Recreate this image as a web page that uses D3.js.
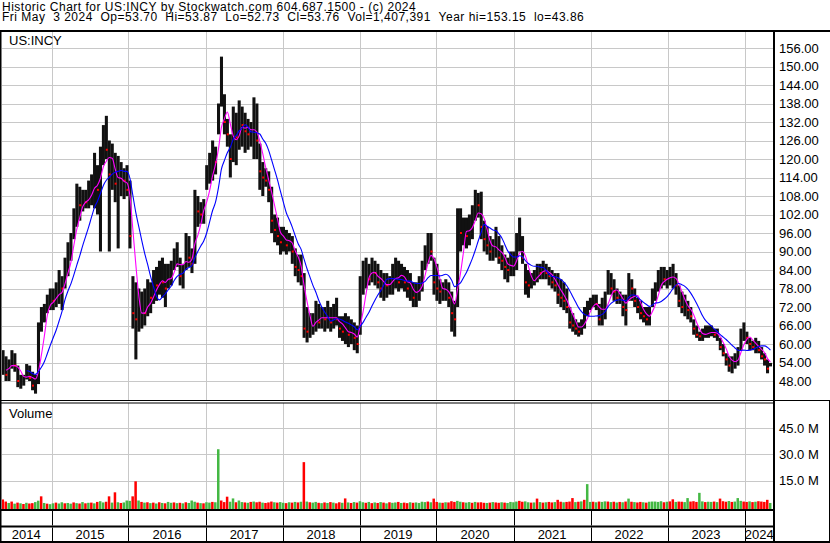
<!DOCTYPE html>
<html><head><meta charset="utf-8">
<script src="https://cdn.jsdelivr.net/npm/d3@7"></script>
<style>
html,body{margin:0;padding:0;background:#fff;}
svg{display:block;}
text{font-family:"Liberation Sans",Arial,sans-serif;}
</style></head>
<body><svg id="c" width="830" height="543"></svg>
<script>
// ---------------- data (bi-weekly samples) ----------------
const startDate = new Date(2014, 4, 16);
const sampleDays = 14;
const highs = [58,56,55,58,57,53,50,50,53.5,53,51,50,67,72,73,76,78,
78,80,84,82,88,93,96,104,112,111,110,110,113,115,122,118,124,131,134,126,125,122,121,119,117,118,
113,82,80,78,77,78,81,80,84,85,87,88,86,86,87,91,93,88,86,96,95,91,110,108,106,107,
118,122,126,124,138,153.2,141,133,128,137,135,139,137,135,133,132,140,138,125,119,117,116,111,102,101,98,
98,97,96,95,91,89,89,83,72,70,70,74,73,72,72,74,72,73,75,69,69,70,69,68,67,66,
82,87,88,86,88,87,86,84,83,83,82,86,88,87,86,85,84,83,80,80,82,87,92,96,96,88,
86,81,80,81,80,77,74,104,104,101,101,102,105,110,109,109.4,100,98,95,94,98,95,92,89,88,90,
90,96,101,95,86,84,83,84,86,86,87,86,85,84,83,83,81,80,78,72,70,68,67,68,72,74,75,
76,76,73,75,77,84,83,81,78,77,76,76,83,81,78,75,74,72,72,72,78,80,84,85,85,84,
85,86,83,79,77,76,74,72,68,66,64,65,66,66,66,65,65,62,60,57,56,56,57,59,65,67,
64,62,61,62,61,59,57,55,53.87];
const lows = [50,48,48,52,51,46,45.5,46.5,48.5,48,45,43.9,47,64,67,70,71,
71,72,73,71,78,82,87,94,98,100,103,104,104,105,104,102,90,118,120,90,110,106,91,108,107,108,
91,65,55,64,65,66,69,70,73,74,76,75,72,78,79,84,85,79,78,84,85,83,86,98,99,99,
110,112,113,115,128,137,128,124,114,119,118,123,124,122,123,124,120,120,110,108,111,106,96,93,92,89,
90,89,90,86,82,80,79,62,60.5,62,63,64,65,65,64,65,64,65,66,62,61,60,59,60,58,57,
63,76,78,79,80,79,78,75,74,75,76,76,78,77,78,77,75,74,72,72,74,77,84,86,87,76,
74,73,74,74,72,64,62.4,72,90,92,91,92,94,100,101,94,90,89,87,87,88,86,84,81,80,82,
82,84,90,86,76,75,78,79,80,81,81,81,79,78,77,73,72,71,70,65,64,63,62.4,63,65,69,71,
72,71,66,66,68,76,76,74,73,73,69,66,74,74,72,70,68,67,66,66,72,74,77,78,79,78,
79,78,76,72,70,69,68,67,63,62,61,61,62,62,62.5,62,61,58,56,53,51,50.5,52,53,58,61,
60,58,58,57,57,55,53,50.5,52.73];
const closes = [53,50,53,56,53,48,48,49,52,49,46.5,47,62,70,71,74,75,
74,76,79,78,85,90,93,100,106,105,107,106,109,111,116,110,118,126,123,115,117,112,112,114,113,110,
95,70,68,70,72,70,76,75,80,79,83,80,78,83,84,88,89,82,84,92,88,86,104,103,102,104,
115,118,121,119,135,146,132,128,120,130,127,133,131,129,128,130,131,126,116,114,113,110,100,97,95,93,
95,92,94,90,85,84,82,65,64,66,68,70,67,69,68,70,67,69,68,65,64,64,63,64,62,60,
78,82,85,81,84,83,80,78,80,79,80,82,84,80,83,80,78,78,75,76,80,84,89,92,90,80,
78,77,77,79,75,70,68,98,96,97,95,99,100,106,105,98,94,92,90,91,93,88,87,85,84,86,
86,92,94,88,80,79,81,82,84,83,85,83,82,80,79,76,75,74,72,67,66,65,64,67,70,72,73,
74,73,68,70,74,80,78,77,75,75,72,71,79,78,74,72,70,69,68,69,76,78,80,82,81,81,
82,83,79,74,72,73,71,69,65,63,62.5,63,64,64,64,63,63,59,57,55,53,54,55,57,63,64,
62,60,59,60,58,56,55,52,53.76];
// volume in millions, largest day of each sample period
const volumes = [4.2,3.0,2.2,3.0,1.8,2.4,2.0,1.6,2.3,1.9,
2.1,2.7,3.5,6.0,2.2,1.8,1.5,2.0,2.4,1.9,
2.6,2.0,2.2,1.8,2.5,2.1,1.9,2.7,2.0,2.3,
2.4,2.0,2.8,3.2,2.5,2.9,6.0,2.4,8.3,2.6,
2.2,2.5,3.6,3.4,6.0,14.6,3.6,2.8,2.4,2.6,
2.1,2.4,1.9,2.6,2.2,2.0,2.8,2.3,2.5,2.1,
2.3,2.0,2.6,2.2,3.6,2.9,2.4,2.1,2.0,2.6,
2.4,2.8,2.6,33.0,3.6,2.7,5.8,2.9,4.8,2.6,
3.6,2.7,2.5,2.3,2.8,3.0,2.6,2.9,2.4,2.2,
2.5,3.0,2.6,2.4,2.7,2.3,2.1,2.6,2.4,2.8,
2.5,2.9,25.6,3.0,2.6,2.4,2.8,2.3,2.1,2.5,
2.2,2.7,2.4,2.0,2.6,2.3,4.8,2.5,2.2,2.7,
2.4,3.2,2.6,2.3,2.8,2.1,2.5,2.2,2.7,2.4,
2.0,2.6,2.3,2.5,2.8,2.2,2.4,2.1,2.6,2.3,
2.5,2.2,2.9,2.7,3.0,2.6,4.7,2.8,2.4,2.3,
2.6,2.5,3.2,2.8,3.4,2.9,2.6,2.4,2.7,2.3,
2.8,2.5,2.6,2.3,2.2,2.4,2.7,2.5,2.3,2.6,
2.4,2.2,2.8,2.6,3.0,3.4,2.9,3.1,2.6,2.4,
2.5,4.7,2.7,2.4,2.6,2.8,2.5,2.7,4.0,2.9,
2.6,2.8,3.0,5.0,2.7,2.9,3.1,4.0,13.0,2.8,
2.9,2.6,3.0,2.8,3.1,3.0,2.7,2.9,2.5,2.8,
2.6,3.0,4.7,2.9,2.7,2.5,2.8,2.6,2.4,2.9,
3.0,3.0,2.8,3.2,2.6,2.9,3.1,4.3,2.8,3.0,
2.9,2.7,5.0,3.0,3.2,2.8,8.0,3.1,2.7,2.9,
2.8,3.0,2.7,4.7,3.2,2.9,3.3,2.8,3.0,5.0,
3.4,3.0,2.8,3.1,2.7,2.9,3.2,3.0,2.8,4.0,2.2];
const volDir = "ddudududud"+"duududuudu"+"uduudududu"+"duduuddudu"+"duuuddudud"+
"udududuudu"+"duduuududu"+"uduuddduud"+"uudududdud"+"dduduududu"+
"dududuudud"+"ududdududu"+"duudududud"+"uduududdud"+"uuuududdud"+
"uddduuduud"+"udddududdu"+"duuuudduud"+"udududdudd"+"udddududuu"+
"duduududud"+"udududdudu"+"uuuududdud"+"duuddduudu"+"ududdduduu"+"uddududdddu";
const priceTicks = [48,54,60,66,72,78,84,90,96,102,108,114,120,126,132,138,144,150,156];
const volTicks = [15,30,45];
const yearLabels = [2014,2015,2016,2017,2018,2019,2020,2021,2022,2023,2024];
const headerLine1 = "Historic Chart for US:INCY by Stockwatch.com 604.687.1500 - (c) 2024";
const headerLine2 = "Fri May  3 2024  Op=53.70  Hi=53.87  Lo=52.73  Cl=53.76  Vol=1,407,391  Year hi=153.15  lo=43.86";
const symbol = "US:INCY";
const maShort = 4, maLong = 10;

// ---------------- build ----------------
const dates = highs.map((_, i) => d3.timeDay.offset(startDate, i * sampleDays));
const data = dates.map((d, i) => ({d, h: highs[i], l: lows[i], c: closes[i], v: volumes[i], up: volDir[i] === "u",
  down: i > 0 && closes[i] < closes[i - 1]}));
function sma(n, minStart) {
  return data.map((p, i) => {
    if (i < minStart) return null;
    const s = Math.max(0, i - n + 1);
    return {d: p.d, v: d3.mean(closes.slice(s, i + 1))};
  }).filter(Boolean);
}
const maS = sma(maShort, 1), maL = sma(maLong, 8);
const nb = s => s.replace(/ /g, "\u00A0");

const svg = d3.select("#c");
const R = 774;
const pTop = 32, pBot = 400, vTop = 403, vBot = 509;

const x = d3.scaleTime().domain([new Date(2015,0,1), new Date(2024,0,1)]).range([51.5, 744.5]);
const yP = d3.scaleLinear().domain([48,156]).range([381,48]);
const yV = d3.scaleLinear().domain([0,45]).range([506.8,428.3]);
const bw = x(d3.timeDay.offset(startDate, sampleDays)) - x(startDate);
const yearBounds = yearLabels.slice(1).map(y => new Date(y,0,1));

svg.append("rect").attr("width",830).attr("height",543).attr("fill","#fff");

const defs = svg.append("defs");
defs.append("clipPath").attr("id","cp").append("rect").attr("x",2).attr("y",pTop).attr("width",R-3).attr("height",pBot-pTop);
defs.append("clipPath").attr("id","cv").append("rect").attr("x",2).attr("y",vTop).attr("width",R-3).attr("height",vBot-vTop);

// gridlines
const gGrid = svg.append("g").attr("transform",`translate(${R},0)`)
  .call(d3.axisLeft(yP).tickValues(priceTicks).tickSize(R-2).tickFormat(""));
gGrid.select(".domain").remove();
gGrid.selectAll("line").attr("stroke","#c8c8c8").attr("shape-rendering","crispEdges");
const vGrid = svg.append("g").attr("transform",`translate(${R},0)`)
  .call(d3.axisLeft(yV).tickValues(volTicks).tickSize(R-2).tickFormat(""));
vGrid.select(".domain").remove();
vGrid.selectAll("line").attr("stroke","#c8c8c8").attr("shape-rendering","crispEdges");
[[pTop,pBot],[vTop,vBot]].forEach(([a,b]) => {
  svg.append("g").selectAll("line").data(yearBounds).join("line")
    .attr("x1",d=>Math.round(x(d))+0.5).attr("x2",d=>Math.round(x(d))+0.5)
    .attr("y1",a).attr("y2",b).attr("stroke","#c8c8c8");
});

// price bars
const gp = svg.append("g").attr("clip-path","url(#cp)");
gp.selectAll("rect.bar").data(data).join("rect").attr("class","bar")
  .attr("x",d=>x(d.d)-bw/2).attr("width",bw+0.1)
  .attr("y",d=>yP(d.h)).attr("height",d=>Math.max(1,yP(d.l)-yP(d.h)))
  .attr("fill","#111");
gp.selectAll("rect.tick").data(data.filter(d=>d.down)).join("rect").attr("class","tick")
  .attr("x",d=>x(d.d)+bw/2-2).attr("y",d=>yP(d.c)-1).attr("width",2).attr("height",2).attr("fill","#ff0000");
const line = d3.line().x(p=>x(p.d)).y(p=>yP(p.v)).curve(d3.curveMonotoneX);
gp.append("path").datum(maS).attr("d",line).attr("fill","none").attr("stroke","#ff00ff").attr("stroke-width",1.1);
gp.append("path").datum(maL).attr("d",line).attr("fill","none").attr("stroke","#0000ff").attr("stroke-width",1.1);

// volume bars
const gv = svg.append("g").attr("clip-path","url(#cv)");
gv.selectAll("rect").data(data).join("rect")
  .attr("x",d=>x(d.d)-bw/2).attr("width",bw*0.85)
  .attr("y",d=>yV(d.v)).attr("height",d=>vBot-yV(d.v))
  .attr("fill",d=>d.up?"#44b844":"#ff0000");

// axis labels
const ax = svg.append("g").attr("transform",`translate(${R},0)`)
  .call(d3.axisRight(yP).tickValues(priceTicks).tickSize(0).tickPadding(5).tickFormat(d3.format(".2f")));
ax.select(".domain").remove();
ax.selectAll("text").attr("font-size",13).attr("fill","#000").attr("font-family","Liberation Sans, Arial, sans-serif");
const avx = svg.append("g").attr("transform",`translate(${R},0)`)
  .call(d3.axisRight(yV).tickValues(volTicks).tickSize(0).tickPadding(5).tickFormat(d=>d3.format(".1f")(d)+" M"));
avx.select(".domain").remove();
avx.selectAll("text").attr("font-size",13).attr("fill","#000").attr("font-family","Liberation Sans, Arial, sans-serif");

// frame
const blk = (x1,y1,w,h) => svg.append("rect").attr("x",x1).attr("y",y1).attr("width",w).attr("height",h).attr("fill","#000");
blk(0,30,830,2);
blk(0,30,1.5,513);
blk(R-1,30,2,513);
blk(0,400,830,1);
blk(0,402.5,R,1);
blk(0,509,R,2);
blk(0,525.5,R,2);
blk(0,541,830,2);
blk(829,400,1,143);
[[511,525.5],[527.5,541]].forEach(([a,b]) => {
  svg.append("g").selectAll("line").data(yearBounds).join("line")
    .attr("x1",d=>Math.round(x(d))+0.5).attr("x2",d=>Math.round(x(d))+0.5)
    .attr("y1",a).attr("y2",b).attr("stroke","#000");
});
const cellEdges = [1, ...yearBounds.map(d=>x(d)), R];
svg.append("g").selectAll("text").data(yearLabels).join("text")
  .attr("x",(d,i)=>(cellEdges[i]+cellEdges[i+1])/2).attr("y",539)
  .attr("text-anchor","middle").attr("font-size",13).attr("fill","#000").text(d=>d);

// header & labels
svg.append("text").attr("x",2).attr("y",10.5).attr("font-size",12).attr("letter-spacing",0.5).attr("fill","#000").text(nb(headerLine1));
svg.append("text").attr("x",2).attr("y",21).attr("font-size",12).attr("letter-spacing",0.5).attr("fill","#000").text(nb(headerLine2));
svg.append("text").attr("x",9).attr("y",45).attr("font-size",13).attr("fill","#000").text(symbol);
svg.append("text").attr("x",9).attr("y",417.5).attr("font-size",13).attr("fill","#000").text("Volume");
</script></body></html>
